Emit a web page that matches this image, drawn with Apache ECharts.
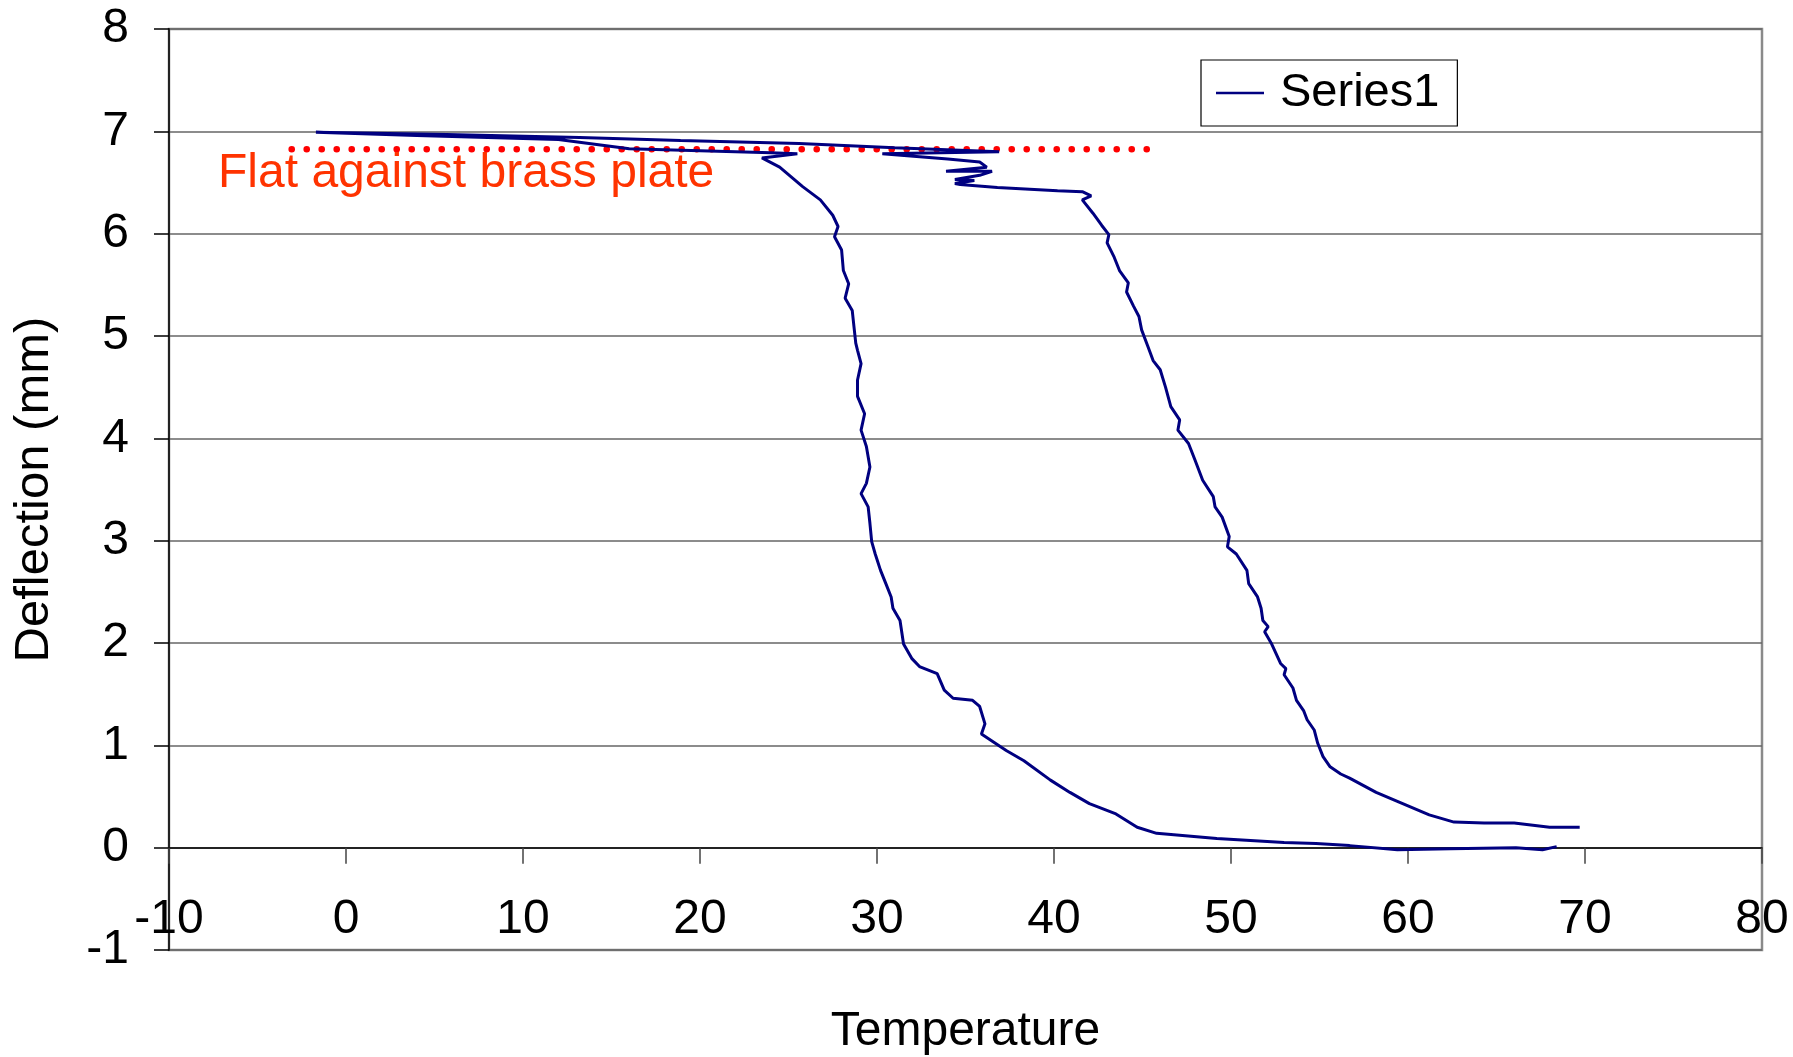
<!DOCTYPE html>
<html>
<head>
<meta charset="utf-8">
<script src="https://cdn.jsdelivr.net/npm/echarts@6/dist/echarts.min.js"></script>
<style>
  html, body { margin: 0; padding: 0; background: #fff; }
  #chart { width: 1793px; height: 1057px; }
</style>
</head>
<body>
<div id="chart"></div>
<script>
// Cooling branch (hot end -> cold end)
const coolTemp = [68.4,67.6,66.1,62.4,59.4,56.7,54.8,53.0,49.2,45.8,
  44.7,43.5,42.0,40.9,39.8,38.3,37.3,36.6,35.9,36.1,
  35.8,35.4,34.3,33.8,33.4,32.4,31.96,31.5,31.3,30.9,
  30.8,30.5,30.2,29.9,29.7,29.6,29.5,29.1,29.4,29.6,
  29.4,29.1,29.3,28.9,28.9,29.1,28.9,28.8,28.7,28.6,
  28.2,28.4,28.1,28.0,27.6,27.8,27.5,26.8,25.8,24.5,
  23.5,25.5,24.0,20.0,16.0,12.0,4.0,-1.7];
const coolDefl = [0.01,-0.02,0.0,-0.01,-0.02,0.02,0.04,0.05,0.09,0.14,
  0.20,0.33,0.43,0.54,0.66,0.85,0.95,1.03,1.11,1.21,
  1.38,1.44,1.46,1.54,1.70,1.77,1.85,1.99,2.22,2.34,
  2.45,2.58,2.71,2.87,2.99,3.17,3.33,3.46,3.56,3.72,
  3.92,4.08,4.24,4.41,4.57,4.73,4.86,4.93,5.09,5.25,
  5.37,5.51,5.64,5.84,5.97,6.07,6.18,6.33,6.46,6.65,
  6.74,6.78,6.79,6.81,6.83,6.92,6.96,6.99];
// Heating branch (cold end -> hot end)
const heatTemp = [5.7,13.2,18.9,25.6,31.0,36.9,
  30.3,34.0,35.8,36.2,33.9,36.5,35.8,34.4,35.5,34.4,34.7,
  36.8,40.2,41.6,42.1,41.6,42.2,42.7,43.1,43.0,43.4,
  43.7,44.2,44.1,44.5,44.8,44.95,45.3,45.6,46.0,46.3,
  46.6,47.1,47.0,47.6,47.96,48.4,49.0,49.1,49.5,49.9,
  49.8,50.3,50.9,51.0,51.5,51.7,51.8,52.1,51.9,52.3,
  52.8,53.1,53.0,53.5,53.7,54.1,54.3,54.7,54.9,55.2,
  55.6,56.2,56.7,58.2,59.7,61.2,62.6,64.3,66.0,68.0,69.7];
const heatDefl = [6.97,6.94,6.91,6.88,6.84,6.80,
  6.78,6.73,6.70,6.65,6.61,6.61,6.57,6.53,6.52,6.49,6.48,
  6.45,6.42,6.41,6.37,6.33,6.20,6.08,5.99,5.91,5.77,
  5.64,5.52,5.43,5.29,5.19,5.06,4.90,4.76,4.67,4.50,
  4.31,4.18,4.08,3.95,3.79,3.59,3.43,3.33,3.23,3.04,
  2.94,2.87,2.71,2.58,2.45,2.34,2.22,2.16,2.11,1.99,
  1.80,1.75,1.69,1.56,1.44,1.34,1.25,1.15,1.02,0.89,
  0.79,0.72,0.68,0.54,0.43,0.32,0.25,0.24,0.24,0.20,0.20];

const flatTemp = [-3.07, 45.9];
const flatDefl = [6.824, 6.824];
const flatLabel = 'Flat against brass plate';
const flatLabelPos = [-7.23, 6.59];

const seriesName = 'Series1';
const xTitle = 'Temperature';
const yTitle = 'Deflection (mm)';

const temperature = coolTemp.concat(heatTemp);
const deflection = coolDefl.concat(heatDefl);
const seriesData = temperature.map((t, i) => [t, deflection[i]]);
const flatData = flatTemp.map((t, i) => [t, flatDefl[i]]);

const FONT = 'Arial, "Liberation Sans", Helvetica, sans-serif';
const chart = echarts.init(document.getElementById('chart'), null, { renderer: 'canvas' });

chart.setOption({
  animation: false,
  backgroundColor: '#ffffff',
  grid: {
    left: 169, right: 31, top: 29, bottom: 107,
    containLabel: false, outerBoundsMode: 'none',
    show: true, borderColor: '#8a8a8a', borderWidth: 2.5, backgroundColor: 'transparent'
  },
  legend: {
    data: [seriesName],
    left: 1201, top: 60,
    orient: 'horizontal',
    icon: 'rect',
    itemWidth: 48, itemHeight: 2.5,
    padding: [8, 18, 8, 15],
    borderColor: '#000', borderWidth: 1.2,
    textStyle: { fontFamily: FONT, fontSize: 47, color: '#000', lineHeight: 50, padding: [0, 0, 0, 11] }
  },
  xAxis: {
    type: 'value', min: -10, max: 80, interval: 10,
    name: xTitle, nameLocation: 'middle', nameGap: 58,
    nameTextStyle: { fontFamily: FONT, fontSize: 48, color: '#000' },
    axisLine: { show: true, onZero: true, lineStyle: { color: '#000', width: 1.5 } },
    axisTick: { show: true, inside: false, length: 16, lineStyle: { color: '#444', width: 1.5 } },
    axisLabel: { fontFamily: FONT, fontSize: 48, color: '#000', margin: -54 },
    splitLine: { show: false }
  },
  yAxis: {
    type: 'value', min: -1, max: 8, interval: 1,
    name: yTitle, nameLocation: 'middle', nameGap: 110, nameRotate: 90,
    nameTextStyle: { fontFamily: FONT, fontSize: 49, color: '#000' },
    axisLine: { show: true, onZero: false, lineStyle: { color: '#222', width: 2 } },
    axisTick: { show: true, inside: false, length: 15, lineStyle: { color: '#000', width: 1.5 } },
    axisLabel: { fontFamily: FONT, fontSize: 48, color: '#000', margin: 40 },
    splitLine: { show: true, lineStyle: { color: '#666', width: 1.5 } }
  },
  series: [
    {
      name: 'Flat',
      type: 'line',
      data: flatData,
      showSymbol: false,
      silent: true,
      z: 3,
      lineStyle: { color: '#ff0000', width: 6.5, type: [0.1, 14.9], cap: 'round' },
      markPoint: {
        symbol: 'circle', symbolSize: 0, silent: true,
        data: [{
          coord: flatLabelPos,
          label: {
            show: true, position: 'right', distance: 0, formatter: flatLabel,
            fontFamily: FONT, fontSize: 48, color: '#ff3300'
          }
        }]
      }
    },
    {
      name: seriesName,
      type: 'line',
      data: seriesData,
      showSymbol: false,
      smooth: false,
      z: 4,
      lineStyle: { color: '#000080', width: 3 },
      itemStyle: { color: '#000080' }
    }
  ]
});
</script>
</body>
</html>
